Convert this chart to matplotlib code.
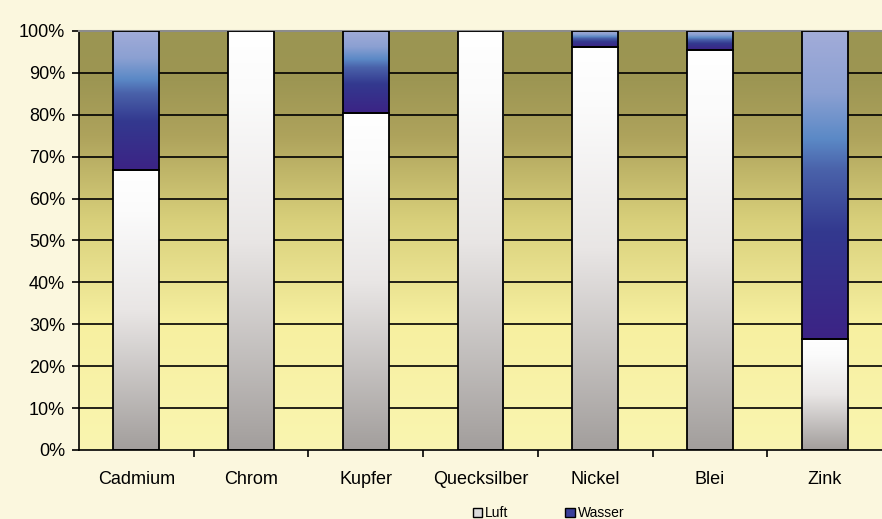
import numpy as np
import matplotlib.pyplot as plt
from matplotlib.colors import LinearSegmentedColormap
from matplotlib.patches import Rectangle, Patch

plt.rcParams['font.family'] = ['Liberation Sans', 'DejaVu Sans']

# данные
metalle = ['Cadmium', 'Chrom', 'Kupfer', 'Quecksilber', 'Nickel', 'Blei', 'Zink']
luft = [66.8, 100, 80.4, 100, 96.3, 95.5, 26.5]
wasser = [100 - v for v in luft]
y_ticks = [0, 10, 20, 30, 40, 50, 60, 70, 80, 90, 100]

# градиенты
cm_luft = LinearSegmentedColormap.from_list('luft', [(0, '#a29e9c'), (0.5, '#e9e6e5'), (0.85, '#fbfbfb'), (1, '#ffffff')])
cm_wasser = LinearSegmentedColormap.from_list('wasser', [(0, '#3c2385'), (0.35, '#33398f'), (0.55, '#4a62aa'),
                                                         (0.65, '#5b89c6'), (0.8, '#8ba0d2'), (1, '#a2acd9')])
cm_bg = LinearSegmentedColormap.from_list('bg', [(0, '#faf5b0'), (0.3, '#f7f0a0'), (0.55, '#d8cf7a'),
                                                 (0.75, '#aea35c'), (0.88, '#9d9653'), (1, '#9b9552')])

fig = plt.figure(figsize=(8.82, 5.19), dpi=100)
fig.patch.set_facecolor('#fbf7de')
ax = fig.add_axes([79/882, 69/519, 803/882, 419/519])

n = len(metalle)
x = np.arange(n)
width = 0.4

grad = np.linspace(0, 1, 256).reshape(-1, 1)
ax.imshow(grad, cmap=cm_bg, origin='lower', aspect='auto', extent=[-0.5, n - 0.5, 0, 100], zorder=0)

for yt in y_ticks[1:-1]:
    ax.axhline(yt, color='black', lw=1.2, zorder=1)

for i in range(n):
    x0 = x[i] - width/2
    x1 = x[i] + width/2
    ax.imshow(grad, cmap=cm_luft, origin='lower', aspect='auto', extent=[x0, x1, 0, luft[i]], zorder=2)
    ax.add_patch(Rectangle((x0, 0), width, luft[i], fill=False, ec='black', lw=1.3, zorder=3))
    if wasser[i] > 0:
        ax.imshow(grad, cmap=cm_wasser, origin='lower', aspect='auto', extent=[x0, x1, luft[i], 100], zorder=2)
        ax.add_patch(Rectangle((x0, luft[i]), width, wasser[i], fill=False, ec='black', lw=1.3, zorder=3))

ax.set_xlim(-0.5, n - 0.5)
ax.set_ylim(0, 100)
ax.set_yticks(y_ticks)
ax.set_yticklabels([f'{v}%' for v in y_ticks], fontsize=13)
ax.set_xticks(np.arange(n - 1) + 0.5)
ax.set_xticklabels([])
ax.set_xticks(x, minor=True)
ax.set_xticklabels(metalle, minor=True, fontsize=13)
ax.tick_params(axis='x', which='minor', length=0, pad=15)
ax.tick_params(axis='x', which='major', length=5, width=1.2, direction='out')
ax.tick_params(axis='y', length=5, width=1.2, direction='out', pad=5)
ax.spines['left'].set_linewidth(1.2)
ax.spines['bottom'].set_linewidth(1.2)
ax.spines['top'].set_color('#8c8c8c')
ax.spines['top'].set_linewidth(1.5)
ax.spines['right'].set_visible(False)

handles = [Patch(facecolor='#dcdcdc', edgecolor='black', label='Luft'),
           Patch(facecolor='#3a3f9a', edgecolor='black', label='Wasser')]
fig.legend(handles=handles, loc='center', bbox_to_anchor=(0.622, 0.011), ncol=2, frameon=False,
           fontsize=10, handlelength=0.7, handleheight=0.7, handletextpad=0.2, columnspacing=4.1,
           borderpad=0)

fig.savefig('out.png', dpi=100, facecolor=fig.get_facecolor())
